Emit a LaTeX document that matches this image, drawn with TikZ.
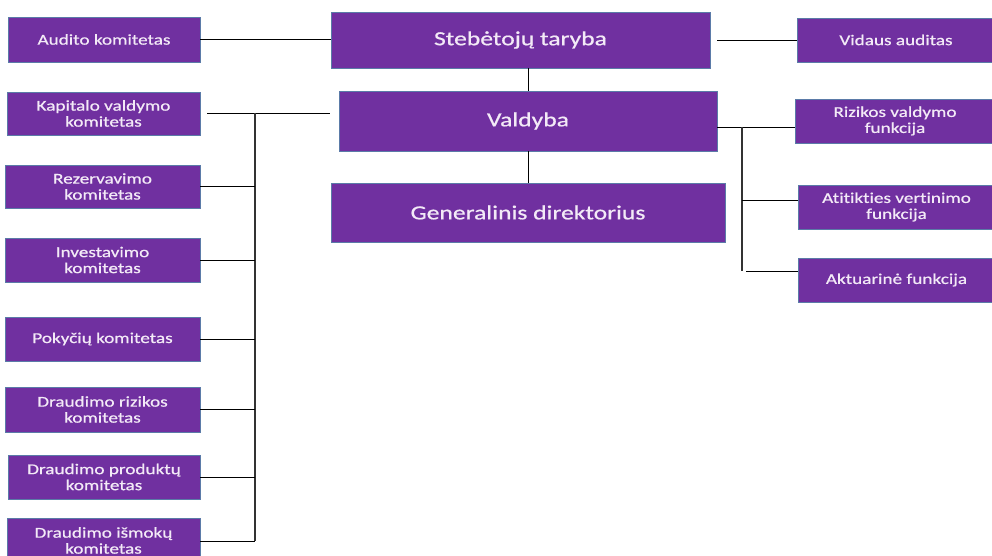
\documentclass[tikz,border=0pt]{standalone}
\usepackage{fontspec}
\setmainfont{Carlito}[FakeStretch=1.28,FakeBold=0.7,Ligatures=NoCommon]
\definecolor{boxfill}{HTML}{7030A0}
\definecolor{boxedge}{HTML}{5B7BA8}
\definecolor{boxtext}{HTML}{F3EAF7}
\definecolor{busline}{HTML}{333333}
\begin{document}
\begin{tikzpicture}[x=1pt,y=-1pt,
  orgbox/.style={draw=boxedge,line width=0.8pt,fill=boxfill,text=boxtext,
    inner sep=0pt,align=center,font=\fontsize{15}{16}\selectfont},
  bigbox/.style={orgbox,font=\fontsize{20}{22}\selectfont},
  conn/.style={draw=black,line width=0.9pt},
  bus/.style={draw=busline,line width=1.3pt}]
\useasboundingbox (0,0) rectangle (992,556);
\clip (0,0) rectangle (992,556);
% boxes: centre, width, height
\node[bigbox,minimum width=379pt,minimum height=56pt] (steb) at (520.5,40) {Stebėtojų taryba};
\node[bigbox,minimum width=378pt,minimum height=60pt] (vald) at (528,121) {Valdyba};
\node[bigbox,minimum width=394pt,minimum height=59pt] (gen) at (528,212.5) {Generalinis direktorius};
\node[orgbox,minimum width=192pt,minimum height=45pt] (aud) at (104,39.5) {Audito komitetas};
\node[orgbox,minimum width=193pt,minimum height=43pt] (kap) at (103.5,113.5) {Kapitalo valdymo\\komitetas};
\node[orgbox,minimum width=195pt,minimum height=43pt] (rez) at (102.5,186.5) {Rezervavimo\\komitetas};
\node[orgbox,minimum width=195pt,minimum height=44pt] (inv) at (102.5,260) {Investavimo\\komitetas};
\node[orgbox,minimum width=195pt,minimum height=44pt] (pok) at (102.5,339) {Pokyčių komitetas};
\node[orgbox,minimum width=195pt,minimum height=45pt] (drr) at (102.5,409.5) {Draudimo rizikos\\komitetas};
\node[orgbox,minimum width=192pt,minimum height=44pt] (drp) at (104,477) {Draudimo produktų\\komitetas};
\node[orgbox,minimum width=193pt,minimum height=45pt] (dri) at (103.5,540.5) {Draudimo išmokų\\komitetas};
\node[orgbox,minimum width=198pt,minimum height=44pt] (vid) at (896,40) {Vidaus auditas};
\node[orgbox,minimum width=200pt,minimum height=44pt] (riz) at (895,121) {Rizikos valdymo\\funkcija};
\node[orgbox,minimum width=197pt,minimum height=44pt] (atit) at (896.5,207) {Atitikties vertinimo\\funkcija};
\node[orgbox,minimum width=197pt,minimum height=44pt] (akt) at (896.5,280) {Aktuarinė funkcija};
% bus coordinates
\coordinate (lbtop) at (255,113);
\coordinate (lbbot) at (255,541);
\coordinate (rbtop) at (742,127);
\coordinate (rbbot) at (742,271);
% top connectors
\draw[conn] (aud.east) -- (aud.east -| steb.west);
\draw[conn] ([xshift=7pt]steb.east) -- (steb.east -| vid.west);
\draw[conn] (vald.north) -- (vald.north |- steb.south);
\draw[conn] (gen.north) -- (gen.north |- vald.south);
% left bus
\draw[conn] ([xshift=7pt]kap.east) -- ([xshift=-9pt]kap.east -| vald.west);
\draw[bus] (lbtop) -- (lbbot);
\foreach \b in {rez,inv,pok,drr,drp}
  \draw[conn] (\b.east) -- (\b.east -| lbtop);
\draw[conn] ([yshift=-0.5pt]dri.east) -- (lbbot);
% right bus
\draw[conn] (vald.east |- rbtop) -- (riz.west |- rbtop);
\draw[bus] (rbtop) -- (rbbot);
\draw[conn] (rbtop |- 0,200) -- (atit.west |- 0,200);
\draw[conn] ([xshift=4pt]rbbot) -- (akt.west |- rbbot);
\end{tikzpicture}
\end{document}
